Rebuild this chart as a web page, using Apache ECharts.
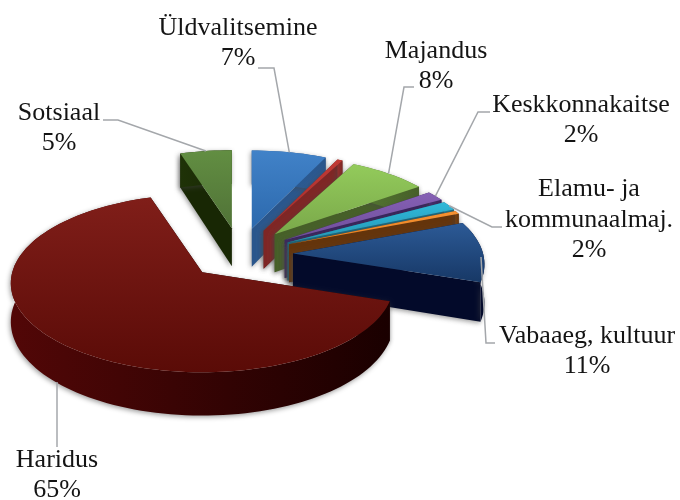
<!DOCTYPE html>
<html>
<head>
<meta charset="utf-8">
<style>
  html, body { margin: 0; background: #fff; }
  #chart { width: 680px; height: 500px; }
</style>
<script src="https://cdn.jsdelivr.net/npm/echarts@6/dist/echarts.min.js"></script>
</head>
<body>
<div id="chart"></div>
<script>
// Slices clockwise from 12 o'clock. Red and orange have no label in the source
const categories = ['Üldvalitsemine', '', 'Majandus', 'Keskkonnakaitse', 'Elamu- ja\nkommunaalmaj.', '', 'Vabaaeg, kultuur', 'Haridus', 'Sotsiaal'];
const values = [7.1, 0.5, 7.5, 1.8, 1.6, 0.6, 11, 64.9, 4.9];

// colours: top face gradient, then side face
const topColors = [
  ['#4182c8', '#2c69ad'], ['#c23a35', '#a32b2a'], ['#93cb5b', '#7aa84a'],
  ['#8560b4', '#6f4d9c'], ['#30b8d8', '#2198b8'], ['#f79232', '#e47f1e'],
  ['#2c5a96', '#173866'], ['#801e19', '#5a0b07'], ['#628e42', '#507237']
];
const sideColors = [
  ['#2f6099', '#2a568c'], ['#94302e', '#7e2625'], ['#567a33', '#465f28'],
  ['#452c70', '#38235c'], ['#1e7d96', '#19687e'], ['#7a4210', '#64340b'],
  ['#050e38', '#030a2a'], ['#520707', '#1a0000'], ['#1f3207', '#182704']
];
// back to front, so nearer slices cover the ones behind
const paintOrder = [8, 0, 1, 2, 3, 4, 5, 6, 7];

// 3d projection of the pie
const centerX = 240, centerY = 254;
const explodeX = 53, explodeY = 26;
const radiusX = 190, radiusY = 87.7;
const perspective = 0.123;
const depth = 38;

const total = values.reduce((a, b) => a + b, 0);
const startAngles = [];
values.reduce((sum, v, i) => {
  startAngles[i] = sum / total * 360;
  return sum + v;
}, 0);

// elbow and end of each leader line, label centre (null = no label)
const labelLayout = [
  { x: 238, y: 43, line: [[274, 68], [258, 68]] },
  null,
  { x: 436, y: 66, line: [[404, 87], [414, 87]] },
  { x: 581, y: 120, line: [[478, 112], [490, 112]] },
  { x: 589, y: 220, line: [[492, 227], [502, 227]] },
  null,
  { x: 587, y: 351, line: [[486, 343], [495, 343]], from: [481, 257] },
  { x: 57, y: 475, line: [[57, 447]], from: [57, 382] },
  { x: 59, y: 128, line: [[118, 120], [103, 120]] }
];
const FONT = '26px "Liberation Serif", "Times New Roman", serif';

function project(apex, angleDeg) {
  const a = angleDeg * Math.PI / 180;
  const u = Math.sin(a), v = -Math.cos(a);
  const w = 1 - perspective * v;
  return { x: apex[0] + radiusX * u / w, y: apex[1] + radiusY * v / w, drop: depth / w };
}

function vGrad(c) {
  return new echarts.graphic.LinearGradient(0, 0, 0, 1, [{ offset: 0, color: c[0] }, { offset: 1, color: c[1] }]);
}
function hGrad(c) {
  return new echarts.graphic.LinearGradient(0, 0, 1, 0, [{ offset: 0, color: c[0] }, { offset: 1, color: c[1] }]);
}

function renderSlice(params, api) {
  const i = params.dataIndex;
  const value = api.value(1);
  const start = startAngles[i];
  const end = start + value / total * 360;
  const mid = (start + end) / 2 * Math.PI / 180;
  const apex = [centerX + explodeX * Math.sin(mid), centerY - explodeY * Math.cos(mid)];
  const base = paintOrder.indexOf(i) * 10;

  const rim = [];
  const steps = Math.max(2, Math.ceil((end - start) / 2));
  for (let s = 0; s <= steps; s++) {
    rim.push(project(apex, start + (end - start) * s / steps));
  }
  const top = rim.map(p => [p.x, p.y]);
  const wall = top.concat(rim.slice().reverse().map(p => [p.x, p.y + p.drop]));
  const first = rim[0], last = rim[rim.length - 1];
  const shadow = { shadowBlur: 5, shadowColor: 'rgba(70,70,70,0.55)', shadowOffsetX: -1, shadowOffsetY: 1.5 };

  const cut = p => ({
    type: 'polygon',
    z2: base,
    shape: { points: [apex, [p.x, p.y], [p.x, p.y + p.drop], [apex[0], apex[1] + depth]] },
    style: Object.assign({ fill: sideColors[i][1] }, shadow)
  });

  const children = [
    cut(first),
    cut(last),
    { type: 'polygon', z2: base + 1, shape: { points: wall }, style: Object.assign({ fill: hGrad(sideColors[i]) }, shadow) },
    { type: 'polygon', z2: base + 2, shape: { points: [apex].concat(top) }, style: { fill: vGrad(topColors[i]) } }
  ];

  const layout = labelLayout[i];
  if (layout) {
    // leader starts on the visible rim at the slice's middle angle
    const anchor = project(apex, (start + end) / 2);
    const from = layout.from || [anchor.x, anchor.y];
    children.push({
      type: 'polyline',
      z2: 200,
      shape: { points: [from].concat(layout.line) },
      style: { stroke: '#a4a7ab', lineWidth: 1.5, fill: null }
    });
    children.push({
      type: 'text',
      z2: 201,
      x: layout.x,
      y: layout.y,
      style: {
        text: categories[i] + '\n' + Math.round(value) + '%',
        font: FONT,
        fill: '#141414',
        align: 'center',
        verticalAlign: 'middle',
        lineHeight: 30.5
      }
    });
  }
  return { type: 'group', children: children };
}

const chart = echarts.init(document.getElementById('chart'));
chart.setOption({
  animation: false,
  backgroundColor: '#fff',
  series: [{
    type: 'custom',
    coordinateSystem: 'none',
    silent: true,
    renderItem: renderSlice,
    data: values.map((v, i) => [i, v])
  }]
});
</script>
</body>
</html>
